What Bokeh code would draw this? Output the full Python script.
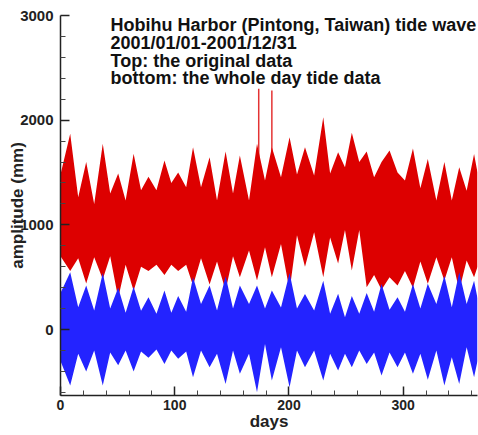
from bokeh.plotting import figure
from bokeh.models import Range1d, FixedTicker, Label
from bokeh.embed import file_html
from bokeh.resources import INLINE

# ---- data (envelopes at spring / neap nodes) ----
days = [0, 8.5, 15.5, 22.5, 29.5, 37, 43.5, 50.5, 57, 64,
        70.5, 77, 84, 91, 97, 103, 110, 116, 123, 130.5,
        137, 144.5, 151, 157, 165, 172, 179, 185, 193, 200.5,
        207, 214, 222, 230, 236, 243, 249, 255, 261.5, 268,
        274.5, 281, 288, 295, 301.5, 308.5, 315, 321.5, 329, 336,
        342.5, 349, 355.5, 362, 365]

tide_hi = [350, 547, 213, 420, 181, 540, 200, 400, 160, 410,
           180, 309, 150, 372, 160, 320, 170, 500, 245, 420,
           181, 510, 200, 420, 245, 420, 200, 372, 210, 540,
           200, 340, 181, 467, 150, 341, 118, 320, 150, 350,
           170, 436, 190, 309, 170, 436, 200, 437, 245, 515,
           213, 547, 245, 467, 300]

tide_lo = [-300, -535, -232, -400, -200, -535, -220, -340, -200, -400,
           -210, -270, -190, -330, -200, -280, -210, -455, -200, -360,
           -232, -519, -200, -423, -232, -598, -137, -487, -168, -551,
           -200, -360, -200, -487, -232, -392, -232, -360, -200, -330,
           -220, -440, -220, -360, -220, -423, -232, -480, -200, -535,
           -264, -519, -168, -455, -300]

orig_hi = [1480, 1870, 1264, 1600, 1200, 1775, 1300, 1490, 1232, 1680,
           1330, 1460, 1330, 1615, 1400, 1500, 1360, 1741, 1360, 1646,
           1232, 1700, 1300, 1662, 1232, 1775, 1423, 1741, 1455, 1837,
           1480, 1741, 1471, 2028, 1490, 1694, 1550, 1880, 1600, 1700,
           1455, 1600, 1710, 1500, 1423, 1730, 1350, 1630, 1232, 1600,
           1232, 1550, 1327, 1678, 1500]

orig_lo = [700, 560, 680, 440, 690, 480, 700, 300, 620, 370,
           600, 560, 620, 520, 620, 560, 620, 420, 680, 430,
           650, 372, 700, 500, 755, 468, 786, 500, 818, 372,
           900, 600, 930, 500, 880, 630, 950, 563, 950, 404,
           520, 380, 500, 420, 560, 400, 650, 437, 691, 468,
           691, 372, 660, 500, 600]

spike_days = [173.5, 185.0]
spike_hi = [2300, 2283]

x_ticks = [0, 100, 200, 300]
x_minor = [20, 40, 60, 80, 120, 140, 160, 180, 220, 240, 260, 280, 320, 340, 360]
y_ticks = [0, 1000, 2000, 3000]
y_minor = [-600, -400, -200, 200, 400, 600, 800, 1200, 1400, 1600, 1800,
           2200, 2400, 2600, 2800]

title_lines = ["Hobihu Harbor (Pintong, Taiwan) tide wave",
               "2001/01/01-2001/12/31",
               "Top: the original data",
               "bottom: the whole day tide data"]
title_y = [2905, 2740, 2570, 2405]

FONT = "Liberation Sans"
RED = "#DD0000"
BLUE = "#2323FF"
INK = "#222222"

p = figure(width=478, height=435, x_range=Range1d(0, 365), y_range=Range1d(-630, 3000),
           output_backend="svg", toolbar_location=None,
           min_border_left=60, min_border_right=1, min_border_top=15, min_border_bottom=40)
p.outline_line_color = None
p.grid.visible = False
p.background_fill_color = "white"

# series
p.varea(x=days, y1=orig_lo, y2=orig_hi, fill_color=RED)
p.segment(x0=spike_days, y0=[1500] * len(spike_days), x1=spike_days, y1=spike_hi,
          line_color=RED, line_width=1.5, line_alpha=0.8)
p.varea(x=days, y1=tide_lo, y2=tide_hi, fill_color=BLUE)

# axes
for ax, tk, mn in ((p.xaxis[0], x_ticks, x_minor), (p.yaxis[0], y_ticks, y_minor)):
    ax.ticker = FixedTicker(ticks=tk, minor_ticks=mn)
    ax.axis_line_width = 1.5
    ax.axis_line_color = INK
    ax.major_tick_in = 9
    ax.major_tick_out = 0
    ax.minor_tick_in = 5
    ax.minor_tick_out = 0
    ax.major_tick_line_width = 1.5
    ax.major_tick_line_color = INK
    ax.minor_tick_line_color = "#444444"
    ax.major_label_text_font = FONT
    ax.major_label_text_font_style = "bold"
    ax.major_label_text_color = INK
    ax.axis_label_text_font = FONT
    ax.axis_label_text_font_style = "bold"
    ax.axis_label_text_font_size = "17px"
    ax.axis_label_text_color = INK

p.xaxis.major_label_text_font_size = "14px"
p.xaxis.major_label_standoff = 4
p.xaxis.axis_label = "days"
p.xaxis.axis_label_standoff = -1

p.yaxis.major_label_text_font_size = "15px"
p.yaxis.major_label_standoff = 7
p.yaxis.axis_label = "amplitude (mm)"
p.yaxis.axis_label_standoff = -10

for t, yy in zip(title_lines, title_y):
    p.add_layout(Label(x=43.8, y=yy, text=t, text_align="left", text_baseline="middle",
                       text_font=FONT, text_font_style="bold", text_font_size="18px",
                       text_color="#111111"))

open("out.html", "w").write(file_html(p, INLINE))
